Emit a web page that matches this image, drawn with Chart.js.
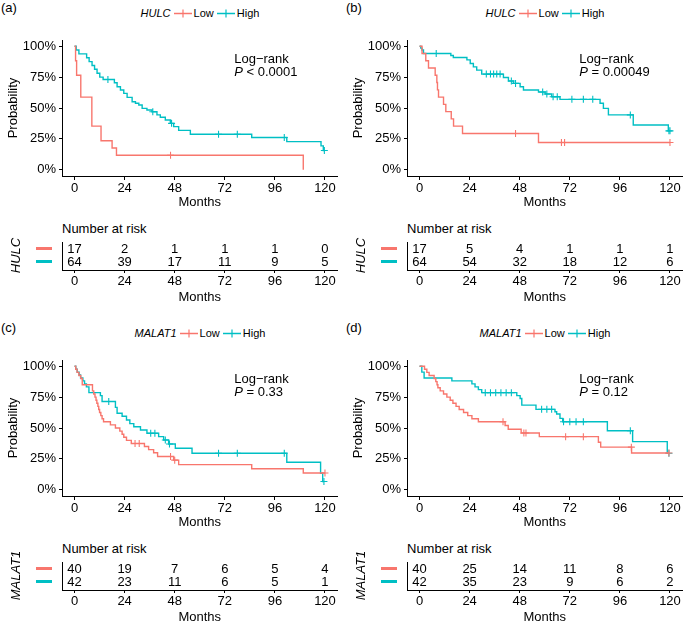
<!DOCTYPE html>
<html>
<head>
<meta charset="utf-8">
<script src="https://cdn.jsdelivr.net/npm/chart.js@4"></script>
<style>
  body { margin: 0; background: #fff; font-family: "Liberation Sans", Arial, sans-serif; color: #000; }
  #fig { position: relative; width: 685px; height: 623px; overflow: hidden; }
  .panel { position: absolute; width: 345px; height: 305px; }
  .panel canvas { position: absolute; left: 0; }
  .tag { position: absolute; left: 1px; top: 0; font-size: 13px; line-height: 15px; }
  .legend { position: absolute; left: 0; top: 6px; width: 400px; text-align: center; font-size: 11px; line-height: 14px; white-space: nowrap; }
  .legend svg { vertical-align: -1px; margin: 0 2px 0 3px; }
  .atrisk { position: absolute; left: 62px; top: 221px; font-size: 13px; line-height: 16px; }
</style>
</head>
<body>
<div id="fig"></div>
<script>
// ggplot palette
const RED = '#F8766D';
const TEAL = '#00BFC4';

const months = [0, 24, 48, 72, 96, 120];
const probTicks = [0, 25, 50, 75, 100];

// (a) HULC, first outcome
const aLowTime = [0.5, 1.0, 3.0, 8.3, 12.7, 18.0, 20.1, 109.6];
const aLowSurv = [88.2, 76.5, 58.8, 35.3, 23.5, 17.6, 11.8, 0];
const aLowCens = [46];
const aHighTime = [0.8, 2.1, 5.8, 7.0, 8.4, 9.6, 10.8, 12.1, 13.7, 19.1, 20.4, 22.0, 23.6, 25.2, 27.6, 29.2, 30.8, 32.4, 34.7, 37.1, 39.5, 41.1, 43.5, 45.9, 47.5, 49.9, 55.5, 84.9, 101.7, 118.1, 119.2];
const aHighSurv = [96.9, 93.8, 90.6, 87.5, 84.4, 81.3, 78.1, 75.0, 73.1, 70.4, 67.2, 64.5, 61.8, 58.6, 55.1, 53.8, 52.4, 49.7, 48.4, 47.0, 44.4, 42.5, 40.3, 37.6, 34.9, 31.9, 28.8, 26.1, 22.8, 19.4, 15.6];
const aHighCens = [16, 37.5, 46.5, 69, 78, 100.5, 119.7];
const aRiskLow = [17, 2, 1, 1, 1, 0];
const aRiskHigh = [64, 39, 17, 11, 9, 5];

// (b) HULC, second outcome
const bLowTime = [1.2, 3.0, 4.3, 7.5, 8.3, 8.6, 9.1, 11.5, 12.6, 15.2, 16.3, 20.6, 57.0];
const bLowSurv = [94.1, 88.2, 82.4, 76.5, 70.6, 64.7, 58.8, 52.9, 47.1, 41.2, 35.3, 29.4, 22.1];
const bLowCens = [46, 68, 69.5, 120];
const bHighTime = [0.6, 1.2, 1.9, 15.0, 16.2, 22.7, 24.3, 25.8, 27.4, 29.8, 40.2, 42.6, 45.0, 48.2, 49.8, 57.0, 60.2, 63.3, 67.3, 86.5, 88.1, 90.5, 102.4, 119.2];
const bHighSurv = [98.4, 96.9, 94.1, 92.5, 90.9, 88.9, 86.0, 83.3, 80.6, 77.4, 74.7, 71.8, 69.9, 67.2, 64.5, 63.0, 61.3, 59.1, 57.0, 53.8, 49.7, 44.4, 36.3, 31.5];
const bHighCens = [8, 32, 34, 35.5, 37, 38.6, 44, 46, 59, 61, 64, 66, 73, 78.5, 83, 101, 119.5, 120];
const bRiskLow = [17, 5, 4, 1, 1, 1];
const bRiskHigh = [64, 54, 32, 18, 12, 6];

// (c) MALAT1, first outcome
const cLowTime = [0.6, 1.2, 2.1, 3.0, 3.7, 8.6, 9.2, 9.8, 10.3, 10.7, 11.2, 11.6, 12.0, 12.6, 13.2, 13.9, 17.2, 19.6, 21.7, 22.8, 23.6, 24.9, 27.2, 33.5, 35.5, 37.9, 39.8, 47.5, 49.9, 84.9, 109.6];
const cLowSurv = [97.5, 95.0, 92.5, 90.0, 85.0, 80.0, 77.5, 75.0, 72.5, 70.0, 67.5, 65.0, 62.5, 60.0, 57.5, 55.0, 52.5, 50.0, 47.5, 45.0, 42.5, 40.0, 37.5, 35.0, 32.5, 30.0, 27.0, 24.0, 20.4, 17.0, 13.6];
const cLowCens = [29, 31, 46, 48, 120];
const cHighTime = [0.6, 1.3, 2.2, 2.9, 4.0, 4.8, 5.7, 6.9, 12.4, 13.2, 19.6, 20.4, 22.8, 24.9, 26.5, 28.4, 31.6, 34.7, 40.3, 42.7, 45.1, 48.3, 56.3, 101.7, 117.9, 118.9];
const cHighSurv = [97.6, 95.2, 92.9, 90.5, 88.1, 85.7, 83.3, 78.6, 76.2, 71.4, 66.7, 61.9, 59.5, 56.5, 53.5, 51.0, 48.4, 45.7, 43.0, 40.3, 37.1, 33.6, 29.6, 22.3, 13.4, 6.7];
const cHighCens = [16.4, 36.5, 38.5, 43.5, 45.5, 69, 78, 100.5, 119.5];
const cRiskLow = [40, 19, 7, 6, 5, 4];
const cRiskHigh = [42, 23, 11, 6, 5, 1];

// (d) MALAT1, second outcome
const dLowTime = [2.4, 3.5, 4.6, 7.0, 7.8, 8.4, 8.8, 9.9, 11.5, 13.1, 14.7, 16.0, 17.5, 19.0, 21.1, 23.1, 25.1, 28.2, 41.0, 42.5, 48.7, 57.4, 85.7, 86.8, 101.6];
const dLowSurv = [97.5, 95.0, 92.5, 90.0, 87.5, 85.0, 82.5, 80.0, 77.5, 75.0, 72.5, 70.0, 67.5, 65.0, 62.5, 60.0, 57.5, 55.1, 52.0, 49.0, 46.0, 43.0, 38.5, 34.5, 29.8];
const dLowCens = [40, 50, 51, 70, 78.5, 101.5, 119.5];
const dHighTime = [1.1, 2.2, 15.5, 25.1, 26.6, 28.2, 29.8, 46.6, 48.2, 49.0, 55.8, 64.9, 65.7, 67.3, 68.6, 90.0, 102.1, 118.7];
const dHighSurv = [95.2, 90.5, 88.1, 85.7, 83.3, 81.0, 78.6, 76.2, 73.8, 68.5, 65.1, 63.2, 61.3, 57.8, 55.1, 47.8, 39.0, 29.6];
const dHighCens = [31.5, 34, 36.5, 39, 41.5, 44, 58.5, 61, 63.3, 69, 72, 75, 78.5, 101, 119.5];
const dRiskLow = [40, 25, 14, 11, 8, 6];
const dRiskHigh = [42, 35, 23, 9, 6, 2];

const panels = [
  { tag: '(a)', gene: 'HULC', p: '< 0.0001', left: 0, top: 0,
    low: [aLowTime, aLowSurv, aLowCens], high: [aHighTime, aHighSurv, aHighCens], risk: [aRiskLow, aRiskHigh] },
  { tag: '(b)', gene: 'HULC', p: '= 0.00049', left: 345, top: 0,
    low: [bLowTime, bLowSurv, bLowCens], high: [bHighTime, bHighSurv, bHighCens], risk: [bRiskLow, bRiskHigh] },
  { tag: '(c)', gene: 'MALAT1', p: '= 0.33', left: 0, top: 320,
    low: [cLowTime, cLowSurv, cLowCens], high: [cHighTime, cHighSurv, cHighCens], risk: [cRiskLow, cRiskHigh] },
  { tag: '(d)', gene: 'MALAT1', p: '= 0.12', left: 345, top: 320,
    low: [dLowTime, dLowSurv, dLowCens], high: [dHighTime, dHighSurv, dHighCens], risk: [dRiskLow, dRiskHigh] }
];

Chart.defaults.font.family = '"Liberation Sans", Arial, sans-serif';
Chart.defaults.font.size = 13;
Chart.defaults.color = '#000';

// survival value at time t (for placing censor ticks on the curve)
function survAt(time, surv, t) {
  let s = 100;
  time.forEach((tt, i) => { if (tt <= t) s = surv[i]; });
  return s;
}

function curveSets([time, surv, cens], color) {
  const end = Math.max(time[time.length - 1], ...cens);
  const pts = [{ x: 0, y: 100 }].concat(time.map((t, i) => ({ x: t, y: surv[i] })));
  pts.push({ x: end, y: surv[surv.length - 1] });
  return [
    { type: 'line', data: pts, borderColor: color, borderWidth: 1.4, pointRadius: 0, stepped: 'before', fill: false },
    { type: 'scatter', data: cens.map(t => ({ x: t, y: survAt(time, surv, t) })),
      pointStyle: 'cross', pointRadius: 3.5, borderColor: color, borderWidth: 1.1, backgroundColor: color }
  ];
}

function keySvg(color) {
  return `<svg width="18" height="9"><line x1="0" y1="4.5" x2="18" y2="4.5" stroke="${color}" stroke-width="1.5"/>` +
         `<line x1="9" y1="0.5" x2="9" y2="8.5" stroke="${color}" stroke-width="1.2"/></svg>`;
}

const xAxis = (height, tickLen, titlePad) => ({
  type: 'linear', min: -6, max: 126,
  afterBuildTicks: s => { s.ticks = months.map(v => ({ value: v })); },
  afterFit: s => { s.height = height; },
  grid: { drawOnChartArea: false, color: '#000', tickLength: tickLen },
  border: { color: '#000', width: 1 },
  ticks: { padding: 1, maxRotation: 0, font: { size: 13 } },
  title: { display: true, text: 'Months', font: { size: 13 }, padding: { top: 0, bottom: titlePad } }
});

// Log-rank annotation placed in data space
const logRank = {
  id: 'logRank',
  afterDraw(chart, args, opts) {
    const { ctx, scales: { x, y } } = chart;
    const px = x.getPixelForValue(76.5);
    ctx.save();
    ctx.fillStyle = '#000';
    ctx.textBaseline = 'middle';
    ctx.textAlign = 'left';
    ctx.font = '13px "Liberation Sans"';
    ctx.fillText('Log\u2212rank', px, y.getPixelForValue(89.5));
    const py = y.getPixelForValue(79);
    ctx.font = 'italic 13px "Liberation Sans"';
    ctx.fillText('P', px, py);
    const w = ctx.measureText('P').width;
    ctx.font = '13px "Liberation Sans"';
    ctx.fillText(' ' + opts.text, px + w, py);
    ctx.restore();
  }
};

// numbers, colour keys and strata label of the risk table
const riskText = {
  id: 'riskText',
  afterDatasetsDraw(chart, args, opts) {
    const { ctx } = chart;
    const ys = chart.scales.y;
    ctx.save();
    ctx.font = '13px "Liberation Sans"';
    ctx.textAlign = 'center';
    ctx.textBaseline = 'middle';
    chart.data.datasets.forEach((ds, i) => {
      const meta = chart.getDatasetMeta(i);
      ctx.fillStyle = '#000';
      meta.data.forEach((pt, j) => ctx.fillText(String(ds.data[j].n), pt.x, pt.y));
      ctx.fillStyle = ds.keyColor;
      const yy = ys.getPixelForValue(ds.data[0].y);
      ctx.fillRect(36, Math.round(yy) - 2, 16, 3);
    });
    ctx.translate(16, (ys.getPixelForValue(1) + ys.getPixelForValue(0)) / 2);
    ctx.rotate(-Math.PI / 2);
    ctx.fillStyle = '#000';
    ctx.font = 'italic 13px "Liberation Sans"';
    ctx.fillText(opts.label, 0, 0);
    ctx.restore();
  }
};

const fig = document.getElementById('fig');
panels.forEach((p, k) => {
  const div = document.createElement('div');
  div.className = 'panel';
  div.style.left = p.left + 'px';
  div.style.top = p.top + 'px';
  div.innerHTML = `
    <div class="tag">${p.tag}</div>
    <div class="legend"><i>${p.gene}</i>${keySvg(RED)}Low${keySvg(TEAL)}High</div>
    <canvas id="km${k}" width="345" height="184" style="top:28px"></canvas>
    <div class="atrisk">Number at risk</div>
    <canvas id="rt${k}" width="345" height="85" style="top:220px"></canvas>`;
  fig.appendChild(div);

  new Chart(document.getElementById('km' + k), {
    data: { datasets: curveSets(p.low, RED).concat(curveSets(p.high, TEAL)) },
    options: {
      responsive: false, animation: false, devicePixelRatio: 1,
      layout: { padding: { top: 12, right: 7.5, left: 0, bottom: 0 } },
      plugins: { legend: { display: false }, tooltip: { enabled: false }, logRank: { text: p.p } },
      scales: {
        x: xAxis(36, 4, 2),
        y: {
          type: 'linear', min: -5, max: 105,
          afterBuildTicks: s => { s.ticks = probTicks.map(v => ({ value: v })); },
          afterFit: s => { s.width = 62; },
          grid: { drawOnChartArea: false, color: '#000', tickLength: 3 },
          border: { color: '#000', width: 1 },
          ticks: { padding: 3, callback: v => v + '%', font: { size: 13 } },
          title: { display: true, text: 'Probability', font: { size: 13 }, padding: { top: 6, bottom: 0 } }
        }
      }
    },
    plugins: [logRank]
  });

  new Chart(document.getElementById('rt' + k), {
    type: 'scatter',
    data: {
      datasets: [
        { data: months.map((m, j) => ({ x: m, y: 1, n: p.risk[0][j] })), pointRadius: 0, keyColor: RED },
        { data: months.map((m, j) => ({ x: m, y: 0, n: p.risk[1][j] })), pointRadius: 0, keyColor: TEAL }
      ]
    },
    options: {
      responsive: false, animation: false, devicePixelRatio: 1,
      layout: { padding: { top: 22, right: 7.5, left: 0, bottom: 0 } },
      plugins: { legend: { display: false }, tooltip: { enabled: false }, riskText: { label: p.gene } },
      scales: {
        x: xAxis(35, 3, 0),
        y: {
          type: 'linear', min: -0.62, max: 1.54,
          afterFit: s => { s.width = 62; },
          grid: { display: false },
          border: { color: '#000', width: 1 },
          ticks: { display: false }
        }
      }
    },
    plugins: [riskText]
  });
});
</script>
</body>
</html>
